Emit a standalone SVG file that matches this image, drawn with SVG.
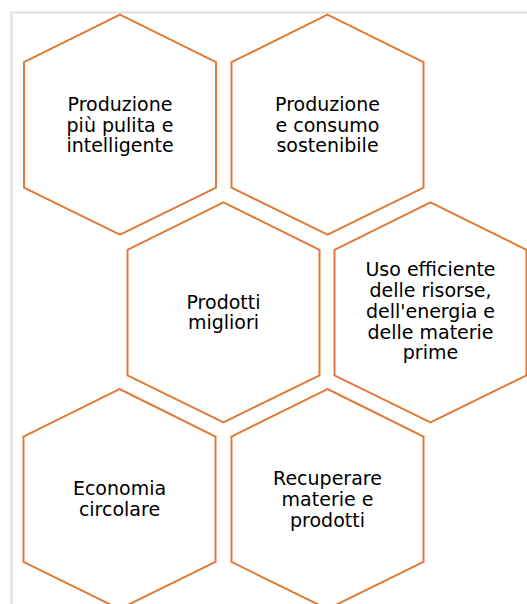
<svg xmlns="http://www.w3.org/2000/svg" width="527" height="604" viewBox="0 0 527 604">
<style>
.hex{fill:#ffffff;stroke:#E07A3A;stroke-width:2;stroke-linejoin:miter}
.lbl{font-family:"DejaVu Sans",Verdana,sans-serif;font-size:19px;fill:#000000;text-anchor:middle}
.frame{fill:#ffffff;stroke:#dedede;stroke-width:2}
</style>
<defs>
<polygon id="hexshape" points="0,0 96,47.5 96,173 0,220 -96,173 -96,47.5"/>
</defs>
<rect class="frame" x="11.5" y="12.5" width="600" height="700"/>
<g id="connectors"/>
<g id="node1">
<use href="#hexshape" class="hex" x="120" y="14.7"/>
<text class="lbl"><tspan x="120" y="110.8">Produzione</tspan><tspan x="120" y="131.6">più pulita e</tspan><tspan x="120" y="152.4">intelligente</tspan></text>
</g>
<g id="node2">
<use href="#hexshape" class="hex" x="327.5" y="14.7"/>
<text class="lbl"><tspan x="327.5" y="110.8">Produzione</tspan><tspan x="327.5" y="131.6">e consumo</tspan><tspan x="327.5" y="152.4">sostenibile</tspan></text>
</g>
<g id="node3">
<use href="#hexshape" class="hex" x="223.5" y="202.3"/>
<text class="lbl"><tspan x="223.5" y="308.5">Prodotti</tspan><tspan x="223.5" y="329.2">migliori</tspan></text>
</g>
<g id="node4">
<use href="#hexshape" class="hex" x="430.5" y="202.3"/>
<text class="lbl"><tspan x="430.5" y="276.2">Uso efficiente</tspan><tspan x="430.5" y="297">delle risorse,</tspan><tspan x="430.5" y="317.8">dell'energia e</tspan><tspan x="430.5" y="338.6">delle materie</tspan><tspan x="430.5" y="359.4">prime</tspan></text>
</g>
<g id="node5">
<use href="#hexshape" class="hex" x="119.5" y="389"/>
<text class="lbl"><tspan x="119.5" y="495.3">Economia</tspan><tspan x="119.5" y="516.1">circolare</tspan></text>
</g>
<g id="node6">
<use href="#hexshape" class="hex" x="327.5" y="389"/>
<text class="lbl"><tspan x="327.5" y="485">Recuperare</tspan><tspan x="327.5" y="505.8">materie e</tspan><tspan x="327.5" y="526.6">prodotti</tspan></text>
</g>
</svg>
